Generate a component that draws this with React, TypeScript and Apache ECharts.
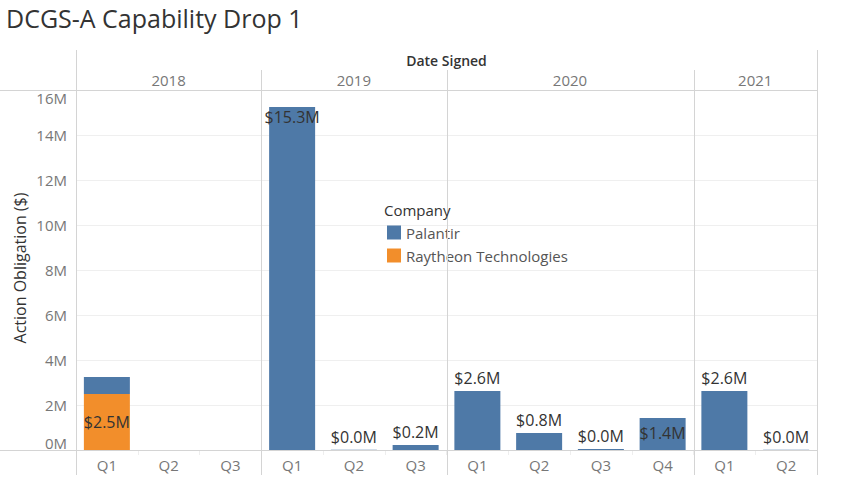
import React, { useEffect, useRef } from "react";
import * as echarts from "echarts";

// ---- data ----
const quarters = ["Q1", "Q2", "Q3", "Q1", "Q2", "Q3", "Q1", "Q2", "Q3", "Q4", "Q1", "Q2"];
const years = ["2018", "2019", "2020", "2021"];
const quartersPerYear = [3, 3, 4, 2];
// millions of dollars
const palantir: (number | null)[] = [0.75, null, null, 15.25, 0.01, 0.22, 2.62, 0.76, 0.04, 1.42, 2.62, 0.01];
const raytheon: (number | null)[] = [2.49, null, null, null, null, null, null, null, null, null, null, null];
const yMin = 0;
const yMax = 16;
const yInterval = 2;

// label placement (not data)
const palantirHiddenLabels = [0];
const palantirInsideTop: Record<number, number> = { 3: 2, 9: 7 };

const BLUE = "#4e79a7";
const ORANGE = "#f28e2b";
const FONT = "'Open Sans', 'Noto Sans', sans-serif";
const GRID_L = 76;
const GRID_R = 817;
const GRID_T = 90;
const GRID_B = 450;
const W = 866;
const H = 484;
const LINE = "#d4d4d4";

const fmt = (v: number) => "$" + v.toFixed(1) + "M";

export default function App() {
  const ref = useRef<HTMLDivElement>(null);
  useEffect(() => {
    if (!ref.current) return;
    const chart = echarts.init(ref.current, undefined, { renderer: "svg" });

    const cell = (GRID_R - GRID_L) / quarters.length;
    const graphics: any[] = [];
    // title
    graphics.push({
      type: "text",
      left: 6,
      top: 5,
      style: { text: "DCGS-A Capability Drop 1", font: `25px ${FONT}`, fill: "#333" },
    });
    graphics.push({
      type: "text",
      x: (GRID_L + GRID_R) / 2,
      y: 60,
      style: { text: "Date Signed", font: `600 14px ${FONT}`, fill: "#333", align: "center", verticalAlign: "middle" },
    });
    // y axis name
    graphics.push({
      type: "text",
      x: 20,
      y: (GRID_T + GRID_B) / 2 - 2,
      rotation: Math.PI / 2,
      style: { text: "Action Obligation ($)", font: `500 16px ${FONT}`, fill: "#333", align: "center", verticalAlign: "middle" },
    });
    // horizontal lines
    graphics.push({ type: "line", shape: { x1: 0, y1: GRID_T + 0.5, x2: GRID_R, y2: GRID_T + 0.5 }, style: { stroke: LINE, lineWidth: 1 }, z: 10 });
    graphics.push({ type: "line", shape: { x1: 0, y1: GRID_B + 0.5, x2: GRID_R, y2: GRID_B + 0.5 }, style: { stroke: LINE, lineWidth: 1 }, z: 10 });
    // outer verticals
    graphics.push({ type: "line", shape: { x1: GRID_L + 0.5, y1: 50, x2: GRID_L + 0.5, y2: 475 }, style: { stroke: LINE, lineWidth: 1 }, z: 10 });
    graphics.push({ type: "line", shape: { x1: GRID_R + 0.5, y1: 50, x2: GRID_R + 0.5, y2: 475 }, style: { stroke: LINE, lineWidth: 1 }, z: 10 });
    // year headers and dividers
    let start = 0;
    years.forEach((y, i) => {
      const n = quartersPerYear[i];
      const x0 = GRID_L + start * cell;
      const x1 = GRID_L + (start + n) * cell;
      graphics.push({
        type: "text",
        x: (x0 + x1) / 2,
        y: 80,
        style: { text: y, font: `15px ${FONT}`, fill: "#777", align: "center", verticalAlign: "middle" },
      });
      if (i > 0) {
        graphics.push({
          type: "line",
          shape: { x1: Math.round(x0) + 0.5, y1: 70, x2: Math.round(x0) + 0.5, y2: 475 },
          style: { stroke: LINE, lineWidth: 1 },
          z: 10,
        });
      }
      start += n;
    });
    // legend title
    graphics.push({
      type: "text",
      left: 384,
      top: 202,
      style: { text: "Company", font: `15px ${FONT}`, fill: "#333" },
      z: 20,
    });

    const palData = palantir.map((v, i) => {
      if (v === null) return null;
      if (palantirHiddenLabels.includes(i)) return { value: v, label: { show: false } };
      if (palantirInsideTop[i] !== undefined)
        return { value: v, label: { show: true, position: "insideTop", distance: palantirInsideTop[i] } };
      return { value: v };
    });

    chart.setOption({
      animation: false,
      grid: { left: GRID_L, right: W - GRID_R, top: GRID_T, bottom: H - GRID_B, containLabel: false },
      legend: {
        data: ["Palantir", "Raytheon Technologies"],
        orient: "vertical",
        left: 387,
        top: 225,
        icon: "rect",
        itemWidth: 14,
        itemHeight: 14,
        itemGap: 8,
        padding: 0,
        textStyle: { fontSize: 15, color: "#555", fontFamily: FONT, lineHeight: 14 },
        selectedMode: false,
      },
      xAxis: {
        type: "category",
        data: quarters,
        axisLine: { show: false },
        axisTick: { show: true, length: 5, lineStyle: { color: "#eeeeee" } },
        axisLabel: { fontSize: 15, color: "#777", fontFamily: FONT, margin: 7 },
      },
      yAxis: {
        type: "value",
        min: yMin,
        max: yMax,
        interval: yInterval,
        axisLine: { show: false },
        axisTick: { show: false },
        splitLine: { lineStyle: { color: "#efefef" } },
        axisLabel: {
          fontSize: 15,
          color: "#777",
          fontFamily: FONT,
          margin: 9,
          formatter: (v: number) => v + "M",
          verticalAlignMinLabel: "bottom",
          verticalAlignMaxLabel: "top",
        },
      },
      series: [
        {
          name: "Raytheon Technologies",
          type: "bar",
          stack: "total",
          barWidth: 46,
          itemStyle: { color: ORANGE },
          data: raytheon,
          label: {
            show: true,
            position: "inside",
            fontSize: 16,
            color: "#333",
            fontFamily: FONT,
            formatter: (p: any) => fmt(p.value),
          },
        },
        {
          name: "Palantir",
          type: "bar",
          stack: "total",
          barWidth: 46,
          itemStyle: { color: BLUE },
          data: palData,
          label: {
            show: true,
            position: "top",
            distance: 5,
            fontSize: 16,
            color: "#333",
            fontFamily: FONT,
            formatter: (p: any) => fmt(typeof p.value === "number" ? p.value : p.data.value),
          },
        },
      ],
      graphic: graphics,
    });
    return () => chart.dispose();
  }, []);
  return <div ref={ref} style={{ position: "fixed", left: 0, top: 0, width: W, height: H, background: "#fff" }} />;
}
